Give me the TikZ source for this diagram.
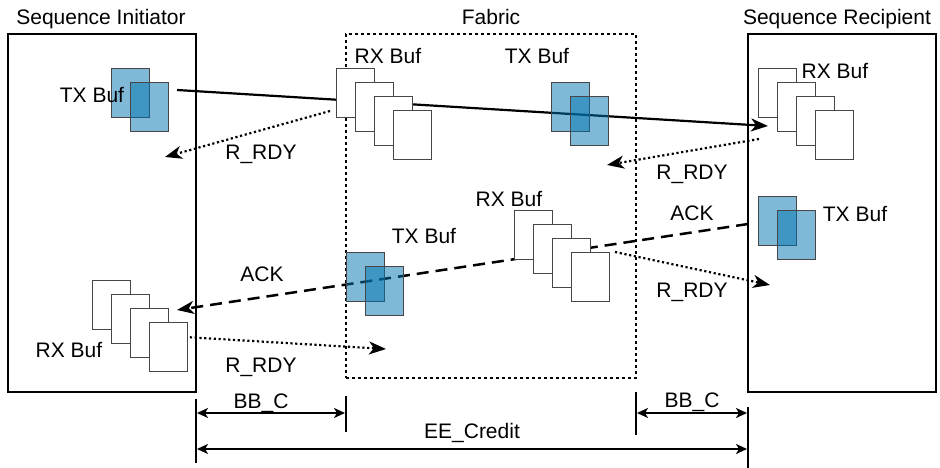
\documentclass[tikz,border=0pt]{standalone}
\usepackage{fontspec}
\setmainfont{Liberation Sans}
\usetikzlibrary{arrows.meta}
\pgfdeclarelayer{bg}
\pgfsetlayers{bg,main}
\definecolor{bufblue}{RGB}{1,115,175}
\definecolor{bufline}{RGB}{70,70,70}
\begin{document}
\begin{tikzpicture}[x=1pt,y=-1pt,
  lbl/.style={font=\fontsize{21}{25}\selectfont, inner sep=0pt, anchor=base},
  wbuf/.style={draw=bufline, line width=1pt, fill=white, minimum width=38pt, minimum height=49pt, inner sep=0pt, outer sep=0pt, anchor=north west},
  bbuf/.style={draw=bufline, line width=1pt, fill=bufblue, fill opacity=0.5, minimum width=38pt, minimum height=49pt, inner sep=0pt, outer sep=0pt, anchor=north west},
  outerbox/.style={draw=black, line width=1.3pt, inner sep=0pt, outer sep=0pt, anchor=north west},
  fabricbox/.style={draw=black, line width=1.1pt, dash pattern=on 3pt off 3pt, inner sep=0pt, outer sep=0pt, anchor=north west},
  dataline/.style={line width=2.2pt, -{Stealth[length=17pt,width=13pt,inset=5pt]}},
  rdyline/.style={line width=2.2pt, dash pattern=on 2.2pt off 2.6pt, -{Stealth[length=17pt,width=13pt,inset=5pt]}},
  ackline/.style={line width=2.5pt, dash pattern=on 12pt off 7pt, -{Stealth[length=17pt,width=13pt,inset=5pt]}},
  tickline/.style={line width=2.2pt},
  dimline/.style={line width=2pt, {Stealth[length=11pt,width=10pt,inset=3pt]}-{Stealth[length=11pt,width=10pt,inset=3pt]}}
]
\useasboundingbox (0,0) rectangle (940,468);

% outer boxes
\node[outerbox, minimum width=188pt, minimum height=358pt] (init) at (8,34) {};
\node[outerbox, minimum width=188pt, minimum height=358pt] (recip) at (748,34) {};
\node[fabricbox, minimum width=290pt, minimum height=344pt] (fabric) at (346,34) {};

% titles
\node[lbl] (tinit) at (101,25) {Sequence Initiator};
\node[lbl] (tfab) at (491,25) {Fabric};
\node[lbl] (trec) at (837,25) {Sequence Recipient};

% connector end points
\coordinate (d0) at (177,90);
\coordinate (d1) at (768,126);
\coordinate (r1a) at (330,111);
\coordinate (r1b) at (165,157);
\coordinate (r2a) at (759,139);
\coordinate (r2b) at (607,165);
\coordinate (ka) at (748,224);
\coordinate (kb) at (177,310);
\coordinate (r3a) at (615,252);
\coordinate (r3b) at (770,285);
\coordinate (r4a) at (185,337);
\coordinate (r4b) at (386,349);

\begin{pgfonlayer}{bg}
\draw[dataline] (d0) -- (d1);
\draw[rdyline] (r1a) -- (r1b);
\draw[rdyline] (r2a) -- (r2b);
\draw[ackline] (ka) -- (kb);
\draw[rdyline] (r3a) -- (r3b);
\draw[rdyline] (r4a) -- (r4b);
\end{pgfonlayer}

% initiator TX buf
\node[bbuf] (itx0) at (111,69) {};
\node[bbuf] (itx1) at (130,83) {};
\node[lbl] (litx) at (92,103) {TX Buf};

% fabric top RX buf
\foreach \i in {0,...,3} \node[wbuf] (frx\i) at ({336+19*\i},{69+14*\i}) {};
\node[lbl] (lfrx) at (388,64) {RX Buf};

% fabric top TX buf
\node[bbuf] (ftx0) at (551,83) {};
\node[bbuf] (ftx1) at (570,97) {};
\node[lbl] (lftx) at (537,64) {TX Buf};

% recipient RX buf
\foreach \i in {0,...,3} \node[wbuf] (rrx\i) at ({758+19*\i},{69+14*\i}) {};
\node[lbl] (lrrx) at (835,79) {RX Buf};

% recipient TX buf
\node[bbuf] (rtx0) at (758,196) {};
\node[bbuf] (rtx1) at (777,210) {};
\node[lbl] (lrtx) at (855,222) {TX Buf};

% fabric middle RX buf
\foreach \i in {0,...,3} \node[wbuf] (mrx\i) at ({514+19*\i},{210+14*\i}) {};
\node[lbl] (lmrx) at (509,206) {RX Buf};

% fabric middle TX buf
\node[bbuf] (mtx0) at (346,252) {};
\node[bbuf] (mtx1) at (365,266) {};
\node[lbl] (lmtx) at (424,243) {TX Buf};

% initiator RX buf
\foreach \i in {0,...,3} \node[wbuf] (irx\i) at ({92+19*\i},{280+14*\i}) {};
\node[lbl] (lirx) at (69,357) {RX Buf};

% connector labels
\node[lbl] (l1) at (261,160) {R\_RDY};
\node[lbl] (l2) at (692,179) {R\_RDY};
\node[lbl] (l3) at (692,220) {ACK};
\node[lbl] (l4) at (262,281) {ACK};
\node[lbl] (l5) at (692,297) {R\_RDY};
\node[lbl] (l6) at (261,372) {R\_RDY};

% dimension ticks
\coordinate (t1a) at (196,399); \coordinate (t1b) at (196,463);
\coordinate (t2a) at (346,396); \coordinate (t2b) at (346,432);
\coordinate (t3a) at (636,392); \coordinate (t3b) at (636,435);
\coordinate (t4a) at (748,407); \coordinate (t4b) at (748,468);
\draw[tickline] (t1a) -- (t1b);
\draw[tickline] (t2a) -- (t2b);
\draw[tickline] (t3a) -- (t3b);
\draw[tickline] (t4a) -- (t4b);

\coordinate (b1a) at (197,413); \coordinate (b1b) at (345,413);
\coordinate (b2a) at (637,413); \coordinate (b2b) at (747,413);
\coordinate (e1a) at (197,449); \coordinate (e1b) at (747,449);
\draw[dimline] (b1a) -- (b1b);
\draw[dimline] (b2a) -- (b2b);
\draw[dimline] (e1a) -- (e1b);

\node[lbl] (lb1) at (261,408) {BB\_C};
\node[lbl] (lb2) at (692,407) {BB\_C};
\node[lbl] (le) at (472,438) {EE\_Credit};
\end{tikzpicture}
\end{document}
